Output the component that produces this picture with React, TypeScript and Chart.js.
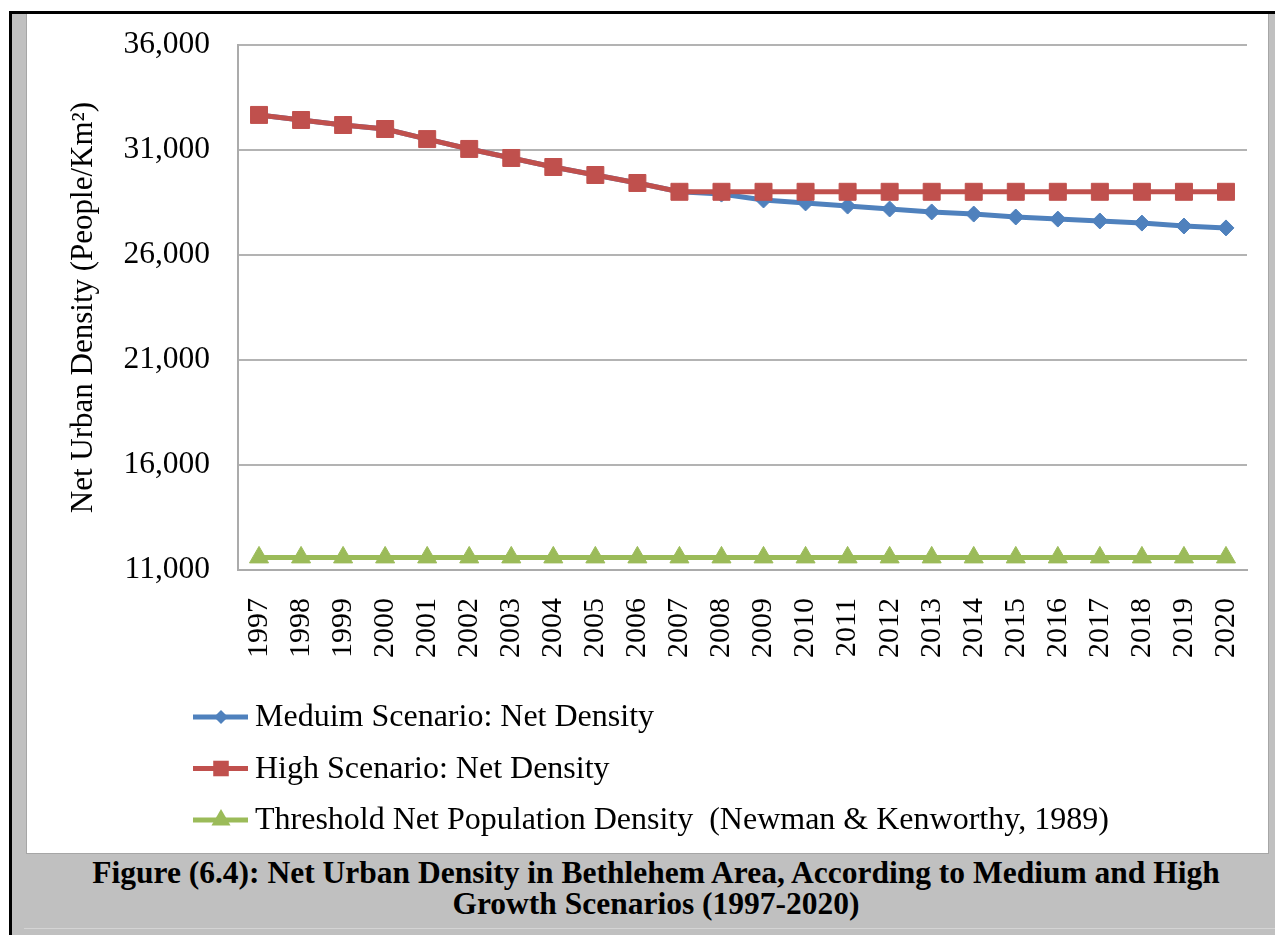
import { useEffect, useRef } from 'react';
import { Chart, registerables } from 'chart.js';

Chart.register(...registerables);

const years = ['1997', '1998', '1999', '2000', '2001', '2002', '2003', '2004', '2005', '2006', '2007', '2008', '2009', '2010', '2011', '2012', '2013', '2014', '2015', '2016', '2017', '2018', '2019', '2020'];

const mediumScenario = [32670, 32430, 32190, 32000, 31520, 31050, 30620, 30190, 29810, 29430, 29010, 28900, 28620, 28480, 28330, 28190, 28050, 27950, 27810, 27710, 27620, 27520, 27380, 27290];

const highScenario = [32670, 32430, 32190, 32000, 31520, 31050, 30620, 30190, 29810, 29430, 29010, 29010, 29010, 29010, 29010, 29010, 29010, 29010, 29010, 29010, 29010, 29010, 29010, 29010];

const thresholdDensity = [11600, 11600, 11600, 11600, 11600, 11600, 11600, 11600, 11600, 11600, 11600, 11600, 11600, 11600, 11600, 11600, 11600, 11600, 11600, 11600, 11600, 11600, 11600, 11600];

const seriesLabels = [
  'Meduim Scenario: Net Density',
  'High Scenario: Net Density',
  'Threshold Net Population Density  (Newman & Kenworthy, 1989)',
];

const yTicks = [11000, 16000, 21000, 26000, 31000, 36000];

const BLUE = '#4F81BD';
const RED = '#C0504D';
const GREEN = '#9BBB59';
const SERIF = '"Liberation Serif", "Times New Roman", serif';

function drawMarker(ctx: CanvasRenderingContext2D, style: string, x: number, y: number, r: number) {
  ctx.beginPath();
  if (style === 'rect') {
    const s = Math.SQRT1_2 * r;
    ctx.rect(x - s, y - s, 2 * s, 2 * s);
  } else if (style === 'rectRot') {
    ctx.moveTo(x, y - r);
    ctx.lineTo(x + r, y);
    ctx.lineTo(x, y + r);
    ctx.lineTo(x - r, y);
    ctx.closePath();
  } else if (style === 'triangle') {
    ctx.moveTo(x, y - r);
    ctx.lineTo(x + r * Math.cos(Math.PI / 6), y + r * 0.5);
    ctx.lineTo(x - r * Math.cos(Math.PI / 6), y + r * 0.5);
    ctx.closePath();
  }
  ctx.fill();
}

const legendPlugin = {
  id: 'stackedLegend',
  afterDraw(chart: any) {
    const ctx: CanvasRenderingContext2D = chart.ctx;
    const legendMarkerSize = [7, 11, 11];
    chart.data.datasets.forEach((ds: any, i: number) => {
      const y = 702 + i * 51.5;
      ctx.save();
      ctx.strokeStyle = ds.borderColor;
      ctx.lineWidth = 5;
      ctx.beginPath();
      ctx.moveTo(166, y);
      ctx.lineTo(221, y);
      ctx.stroke();
      ctx.fillStyle = ds.backgroundColor;
      drawMarker(ctx, ds.pointStyle, 194, y, legendMarkerSize[i]);
      ctx.fillStyle = '#000';
      ctx.font = '32px ' + SERIF;
      ctx.textBaseline = 'middle';
      ctx.textAlign = 'left';
      ctx.fillText(ds.label, 228, y + 1);
      ctx.restore();
    });
  },
};

function DensityChart() {
  const ref = useRef<HTMLCanvasElement | null>(null);
  useEffect(() => {
    if (!ref.current) return;
    const chart = new Chart(ref.current, {
      type: 'line',
      data: {
        labels: years,
        datasets: [
          {
            label: seriesLabels[0],
            data: mediumScenario,
            borderColor: BLUE,
            backgroundColor: BLUE,
            borderWidth: 5,
            pointStyle: 'rectRot',
            pointRadius: 8,
            pointBorderWidth: 1,
            pointBorderColor: BLUE,
            pointBackgroundColor: BLUE,
            tension: 0,
            order: 1,
          },
          {
            label: seriesLabels[1],
            data: highScenario,
            borderColor: RED,
            backgroundColor: RED,
            borderWidth: 5,
            pointStyle: 'rect',
            pointRadius: 12,
            pointBorderWidth: 1,
            pointBorderColor: RED,
            pointBackgroundColor: RED,
            tension: 0,
            order: 0,
          },
          {
            label: seriesLabels[2],
            data: thresholdDensity,
            borderColor: GREEN,
            backgroundColor: GREEN,
            borderWidth: 5,
            pointStyle: 'triangle',
            pointRadius: 11,
            pointBorderWidth: 1,
            pointBorderColor: GREEN,
            pointBackgroundColor: GREEN,
            tension: 0,
            order: 2,
          },
        ],
      },
      options: {
        responsive: false,
        animation: false,
        devicePixelRatio: 1,
        layout: { autoPadding: false, padding: { top: 30, right: 21, bottom: 183, left: 0 } },
        plugins: {
          legend: { display: false },
          tooltip: { enabled: false },
          title: { display: false },
        },
        scales: {
          x: {
            offset: true,
            grid: { display: false },
            border: { display: true, color: '#ababab', width: 2 },
            ticks: {
              autoSkip: false,
              minRotation: 90,
              maxRotation: 90,
              padding: 20,
              color: '#000',
              font: { family: SERIF, size: 30 },
            },
            afterFit: (scale: any) => {
              scale.height = 100;
              scale.paddingLeft = 0;
              scale.paddingRight = 0;
              scale.paddingTop = 0;
              scale.paddingBottom = 0;
            },
          },
          y: {
            min: 11000,
            max: 36000,
            afterBuildTicks: (scale: any) => {
              scale.ticks = yTicks.map((v) => ({ value: v }));
            },
            grid: { color: '#b3b3b3', lineWidth: 2, drawTicks: false },
            border: { display: true, color: '#ababab', width: 2 },
            ticks: {
              padding: 28,
              color: '#000',
              font: { family: SERIF, size: 31.5 },
              callback: (v: any) => Number(v).toLocaleString('en-US'),
            },
            title: {
              display: true,
              text: 'Net Urban Density (People/Km²)',
              color: '#000',
              font: { family: SERIF, size: 31 },
              padding: { top: 38, bottom: 0 },
            },
            afterFit: (scale: any) => {
              scale.width = 211;
              scale.paddingLeft = 0;
              scale.paddingRight = 0;
              scale.paddingTop = 0;
              scale.paddingBottom = 0;
            },
          },
        },
      },
      plugins: [legendPlugin],
    });
    return () => chart.destroy();
  }, []);
  return <canvas ref={ref} width={1241} height={838} style={{ display: 'block', width: 1241, height: 838 }} />;
}

export default function App() {
  return (
    <div style={{ position: 'absolute', left: 0, top: 0, width: 1275, height: 935, overflow: 'hidden', background: '#fff' }}>
      <div
        style={{
          position: 'absolute',
          left: 9,
          top: 11,
          width: 1300,
          height: 940,
          borderLeft: '3px solid #000',
          borderTop: '3px solid #000',
          background: '#c0c0c0',
          boxSizing: 'border-box',
        }}
      />
      <div
        style={{
          position: 'absolute',
          left: 26,
          top: 14,
          width: 1243,
          height: 840,
          background: '#fff',
          border: '1px solid #a6a6a6',
          borderTop: 'none',
          boxSizing: 'border-box',
        }}
      />
      <div style={{ position: 'absolute', left: 27, top: 15 }}>
        <DensityChart />
      </div>
      <div
        style={{
          position: 'absolute',
          left: 27,
          top: 857,
          width: 1258,
          fontFamily: SERIF,
          fontWeight: 'bold',
          fontSize: 31.5,
          lineHeight: '31px',
          textAlign: 'center',
          whiteSpace: 'nowrap',
          color: '#000',
        }}
      >
        Figure (6.4): Net Urban Density in Bethlehem Area, According to Medium and High
        <br />
        Growth Scenarios (1997-2020)
      </div>
      <div style={{ position: 'absolute', left: 24, top: 928, width: 1260, height: 1, background: '#d4d4d4' }} />
    </div>
  );
}
